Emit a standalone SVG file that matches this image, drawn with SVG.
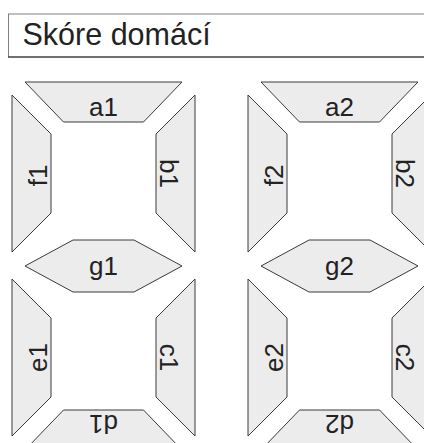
<svg xmlns="http://www.w3.org/2000/svg" width="424" height="443" viewBox="0 0 424 443">
<style>
.seg{fill:#ececec;stroke:#3a3a3a;stroke-width:1}
.lbl{font-family:"Liberation Sans",Arial,sans-serif;font-size:26px;fill:#222;text-anchor:middle}
.hdr{font-family:"Liberation Sans",Arial,sans-serif;font-size:30.5px;fill:#222}
</style>
<rect x="0" y="0" width="424" height="443" fill="#fff"/>
<g id="header">
<rect x="8.5" y="14" width="430" height="43" fill="#fff" stroke="#808080" stroke-width="1"/>
<line x1="8" y1="57" x2="424" y2="57" stroke="#222" stroke-width="1.2"/>
<text class="hdr" x="22.5" y="45">Skóre domácí</text>
</g>
<g id="connectors"/>
<g id="digit1">
<g id="a1"><polygon class="seg" points="25,82 182,82 143.5,122 63.5,122"/><text class="lbl" x="103.5" y="116">a1</text></g>
<g id="b1"><polygon class="seg" points="195,95 195,252 156,213 156,134"/><text class="lbl" transform="translate(160,173.5) rotate(90)">b1</text></g>
<g id="c1"><polygon class="seg" points="195,279 195,436 156,397 156,318"/><text class="lbl" transform="translate(160,357.5) rotate(90)">c1</text></g>
<g id="d1"><polygon class="seg" points="63.5,410 143.5,410 182,450 25,450"/><text class="lbl" transform="translate(103.5,415) rotate(180)">d1</text></g>
<g id="e1"><polygon class="seg" points="12,279 51,318 51,397 12,436"/><text class="lbl" transform="translate(47,357.5) rotate(-90)">e1</text></g>
<g id="f1"><polygon class="seg" points="12,95 51,134 51,213 12,252"/><text class="lbl" transform="translate(47,175.5) rotate(-90)">f1</text></g>
<g id="g1"><polygon class="seg" points="25,266 73,240 134,240 182,266 134,292 73,292"/><text class="lbl" x="103.5" y="275">g1</text></g>
</g>
<g id="digit2" transform="translate(236,0)">
<g id="a2"><polygon class="seg" points="25,82 182,82 143.5,122 63.5,122"/><text class="lbl" x="103.5" y="116">a2</text></g>
<g id="b2"><polygon class="seg" points="195,95 195,252 156,213 156,134"/><text class="lbl" transform="translate(160,173.5) rotate(90)">b2</text></g>
<g id="c2"><polygon class="seg" points="195,279 195,436 156,397 156,318"/><text class="lbl" transform="translate(160,357.5) rotate(90)">c2</text></g>
<g id="d2"><polygon class="seg" points="63.5,410 143.5,410 182,450 25,450"/><text class="lbl" transform="translate(103.5,415) rotate(180)">d2</text></g>
<g id="e2"><polygon class="seg" points="12,279 51,318 51,397 12,436"/><text class="lbl" transform="translate(47,357.5) rotate(-90)">e2</text></g>
<g id="f2"><polygon class="seg" points="12,95 51,134 51,213 12,252"/><text class="lbl" transform="translate(47,175.5) rotate(-90)">f2</text></g>
<g id="g2"><polygon class="seg" points="25,266 73,240 134,240 182,266 134,292 73,292"/><text class="lbl" x="103.5" y="275">g2</text></g>
</g>
</svg>
